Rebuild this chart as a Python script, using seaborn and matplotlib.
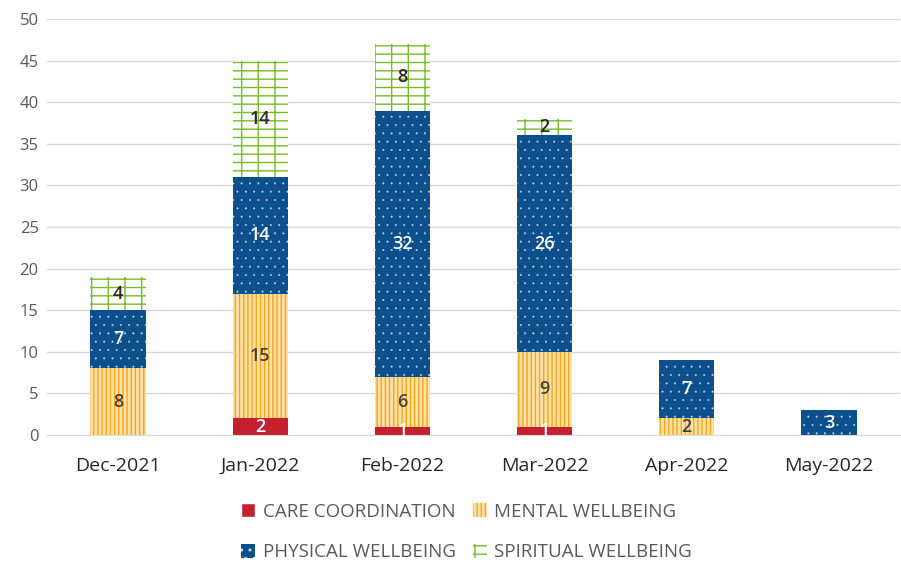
import numpy as np
import pandas as pd
import matplotlib
matplotlib.use("Agg")
import matplotlib.pyplot as plt
import seaborn as sns
from matplotlib.patches import Patch

months = ["Dec-2021", "Jan-2022", "Feb-2022", "Mar-2022", "Apr-2022", "May-2022"]
care = [0, 2, 1, 1, 0, 0]
mental = [8, 15, 6, 9, 2, 0]
physical = [7, 14, 32, 26, 7, 3]
spiritual = [4, 14, 8, 2, 0, 0]

series = ["CARE COORDINATION", "MENTAL WELLBEING", "PHYSICAL WELLBEING", "SPIRITUAL WELLBEING"]
values = [care, mental, physical, spiritual]

# fill / hatch / hatch colour / hatch width / label colour
styles = [
    dict(fc="#C5202F", hatch=None, hc="#C5202F", hw=1.0, tc="white"),
    dict(fc="#FFE2A8", hatch="||||", hc="#F7A51C", hw=1.0, tc="#404040"),
    dict(fc="#0B4F8C", hatch="..", hc="#C9D6E6", hw=0.2, tc="white"),
    dict(fc="white", hatch="+-", hc="#7AB929", hw=1.0, tc="#262626"),
]

sns.set_style("white")
plt.rcParams["font.family"] = ["Open Sans", "DejaVu Sans"]
plt.rcParams["hatch.linewidth"] = 1.0


def style_patch(p, st):
    p.set_facecolor(st["fc"])
    if st["hatch"]:
        p.set_hatch(st["hatch"])
        p.set_edgecolor(st["hc"])
        p.set_linewidth(0)
        if hasattr(p, "set_hatch_linewidth"):
            p.set_hatch_linewidth(st["hw"])


fig = plt.figure(figsize=(9.01, 5.63), dpi=100)
ax = fig.add_axes([47 / 901, (563 - 435) / 563, (900 - 47) / 901, (435 - 19) / 563])

bottom = np.zeros(len(months))
for name, vals, st in zip(series, values, styles):
    df = pd.DataFrame({"month": months, "value": vals})
    sns.barplot(data=df, x="month", y="value", ax=ax, bottom=bottom.copy(),
                width=0.39, color=st["fc"], saturation=1, errorbar=None,
                linewidth=0, legend=False)
    cont = ax.containers[-1]
    for p in cont:
        style_patch(p, st)
    labels = [str(v) if v > 0 else "" for v in vals]
    ax.bar_label(cont, labels=labels, label_type="center", color=st["tc"],
                 fontsize=13, fontweight="semibold")
    bottom += np.array(vals)

if ax.get_legend() is not None:
    ax.get_legend().remove()

ax.set_ylim(0, 50)
ax.set_yticks(range(0, 51, 5))
ax.set_xlim(-0.5, 5.42)
ax.set_xlabel("")
ax.set_ylabel("")
ax.grid(axis="y", color="#D9D9D9", linewidth=1)
ax.set_axisbelow(True)
for s in ["top", "right", "left"]:
    ax.spines[s].set_visible(False)
ax.spines["bottom"].set_color("#D9D9D9")
ax.tick_params(axis="y", length=0, labelsize=12, labelcolor="#595959", pad=6)
ax.tick_params(axis="x", length=0, labelsize=14, labelcolor="#262626", pad=16)
ax.set_xticks(np.arange(-0.5, 6, 1), minor=True)
ax.tick_params(axis="x", which="minor", length=5, color="#D9D9D9")

handles = []
for st in styles:
    h = Patch(label="")
    style_patch(h, st)
    handles.append(h)
order = [0, 2, 1, 3]
leg = fig.legend([handles[i] for i in order], [series[i] for i in order],
                 loc="lower center", bbox_to_anchor=(0.518, -0.027), ncol=2, frameon=False,
                 fontsize=13.5, labelcolor="#595959", handlelength=0.75, handleheight=0.75,
                 handletextpad=0.4, columnspacing=0.9, labelspacing=1.2)

fig.savefig("out.png", dpi=100)
